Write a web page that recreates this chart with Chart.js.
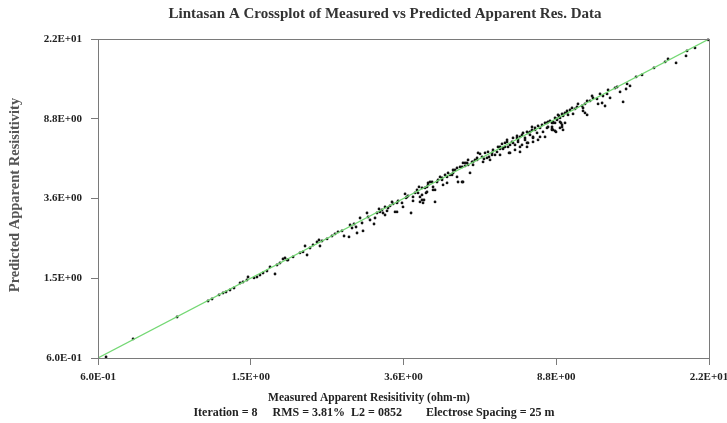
<!DOCTYPE html>
<html>
<head>
<meta charset="utf-8">
<title>Lintasan A Crossplot</title>
<script src="https://cdn.jsdelivr.net/npm/chart.js@4/dist/chart.umd.min.js"></script>
<style>
    html, body { margin: 0; padding: 0; background: #fff; }
    #wrap { width: 727px; height: 423px; position: relative; }
</style>
</head>
<body>
<div id="wrap"><canvas id="crossplot"></canvas></div>
<script>
// measured vs predicted apparent resistivity (ohm-m)
const measured = [
    0.629, 0.737, 0.954, 1.144, 1.171, 1.220, 1.249, 1.271, 1.301, 1.332,
    1.380, 1.404, 1.437, 1.446, 1.498, 1.524, 1.551, 1.579, 1.616, 1.645,
    1.694, 1.714, 1.744, 1.796, 1.828, 1.883, 1.775, 1.818, 1.961, 1.996,
    2.020, 2.044, 2.080, 2.117, 2.167, 2.192, 2.231, 2.205, 2.298, 2.366,
    2.408, 2.451, 2.509, 2.539, 2.614, 2.630, 2.661, 2.692, 2.724, 2.740,
    2.789, 2.822, 2.838, 2.905, 2.923, 2.957, 3.027, 3.045, 3.081, 3.117,
    3.135, 3.191, 3.229, 3.286, 3.325, 3.384, 3.424, 3.464, 3.485, 3.567,
    3.631, 3.652, 3.695, 3.761, 3.805, 3.805, 3.850, 3.895, 3.941, 4.011,
    4.035, 4.058, 4.106, 4.130, 4.155, 4.011, 4.155, 4.254, 4.279, 4.329,
    4.329, 4.406, 4.511, 4.537, 4.645, 4.672, 4.727, 4.811, 4.868, 4.925,
    4.954, 5.072, 5.101, 5.162, 5.223, 5.254, 5.315, 5.101, 5.378, 5.473,
    5.538, 5.636, 5.703, 5.737, 5.804, 5.872, 5.906, 5.976, 6.047, 6.082,
    6.154, 6.226, 6.337, 6.412, 6.449, 6.525, 6.603, 6.641, 6.720, 6.799,
    6.839, 6.919, 7.001, 7.043, 7.125, 7.209, 7.252, 7.337, 7.424, 7.468,
    7.556, 7.645, 7.690, 7.781, 7.873, 7.919, 8.012, 8.107, 8.154, 8.251,
    8.348, 8.397, 8.596, 8.647, 8.749, 9.009, 9.116, 9.169, 6.337, 7.125,
    4.130, 21.46, 19.88, 18.97, 18.86, 17.79, 16.97, 16.68, 15.63, 14.57,
    14.07, 13.58, 13.35, 13.27, 12.81, 13.04, 12.59, 12.44, 12.08, 11.94,
    11.87, 11.59, 11.39, 11.73, 11.53, 11.26, 11.19, 10.93, 10.74, 10.87,
    10.56, 10.43, 10.31, 10.25, 10.31, 10.43, 10.56, 10.01, 9.953, 9.837,
    9.723, 9.666, 9.553, 9.387, 9.277, 9.169, 9.116, 9.009, 8.904, 8.852,
    8.749, 8.647, 8.596, 9.116, 9.009, 8.749, 8.596, 9.277, 5.410, 5.571,
    5.769, 5.941, 6.047, 6.263, 6.337, 6.525, 6.603, 6.680, 6.720, 6.839,
    6.919, 7.001, 7.043, 7.125, 7.209, 7.337, 7.424, 7.468, 7.556, 7.645,
    7.690, 7.781, 7.919, 8.012, 8.251, 8.348, 8.397, 8.496, 8.596, 8.647,
    8.800, 8.852, 8.956, 9.062, 9.169, 9.387, 9.442, 7.690, 7.424, 6.449,
    3.172, 3.229, 3.267, 3.364, 3.588, 3.673, 3.918, 3.964, 4.011, 4.082,
    4.204, 4.279, 4.380, 4.458, 4.511, 4.591, 4.645, 4.783, 4.811, 4.925,
    5.013, 5.072, 5.162, 5.254, 5.410, 5.538, 3.464, 3.964
];
const predicted = [
    0.607, 0.743, 0.951, 1.138, 1.164, 1.218, 1.245, 1.259, 1.288, 1.317,
    1.393, 1.409, 1.441, 1.490, 1.474, 1.490, 1.524, 1.559, 1.594, 1.668,
    1.541, 1.705, 1.744, 1.845, 1.804, 1.866, 1.824, 1.804, 1.952, 1.974,
    2.111, 1.908, 2.064, 2.135, 2.208, 2.258, 2.233, 2.111, 2.284, 2.362,
    2.416, 2.471, 2.499, 2.362, 2.336, 2.673, 2.584, 2.703, 2.613, 2.443,
    2.891, 2.733, 2.499, 3.058, 2.924, 2.827, 2.703, 2.891, 3.058, 3.199,
    3.093, 3.058, 2.990, 3.235, 3.309, 3.384, 3.093, 3.422, 3.500, 3.422,
    3.786, 3.620, 3.702, 3.058, 3.500, 3.661, 3.829, 3.960, 4.096, 3.744,
    3.422, 3.539, 3.829, 4.096, 4.189, 4.050, 4.284, 4.332, 4.096, 3.960,
    3.461, 4.431, 4.532, 4.189, 4.583, 4.793, 4.687, 4.793, 4.957, 4.583,
    4.332, 5.128, 5.363, 5.186, 5.363, 5.244, 4.793, 4.332, 5.424, 5.547,
    5.673, 5.934, 5.737, 5.424, 6.001, 5.673, 6.069, 5.547, 6.001, 6.206,
    5.868, 6.069, 6.419, 6.639, 6.348, 6.714, 6.944, 6.419, 6.001, 6.790,
    7.102, 6.565, 7.263, 6.944, 7.182, 6.565, 7.512, 7.102, 7.597, 6.714,
    7.345, 7.770, 7.102, 7.946, 7.512, 8.126, 7.182, 8.218, 7.597, 8.405,
    7.946, 8.500, 8.036, 7.770, 8.405, 8.500, 8.036, 7.770, 5.868, 6.069,
    3.872, 21.35, 19.52, 18.87, 17.84, 16.49, 17.25, 16.68, 15.59, 14.41,
    14.09, 12.74, 13.03, 12.31, 11.91, 10.64, 12.59, 12.45, 11.13, 12.18,
    11.64, 11.38, 11.64, 10.17, 10.52, 10.41, 11.01, 11.13, 10.76, 11.38,
    10.76, 10.41, 9.947, 10.17, 9.617, 9.403, 9.195, 10.41, 10.06, 9.836,
    9.299, 9.947, 9.726, 9.617, 9.403, 9.092, 9.299, 8.890, 9.195, 8.791,
    8.890, 8.500, 8.405, 8.218, 7.946, 7.683, 7.858, 8.405, 5.424, 6.001,
    5.610, 5.737, 5.868, 6.419, 6.277, 6.419, 6.790, 6.001, 6.565, 6.714,
    6.206, 7.102, 6.790, 6.419, 7.345, 6.944, 6.714, 7.512, 7.597, 8.036,
    7.182, 7.770, 6.944, 7.946, 7.182, 8.405, 8.036, 8.596, 7.770, 8.405,
    7.597, 8.693, 9.092, 8.405, 9.195, 9.403, 9.195, 6.790, 6.419, 6.277,
    3.163, 3.272, 3.128, 3.461, 3.272, 3.661, 3.829, 3.661, 3.539, 4.050,
    4.332, 3.960, 4.332, 4.583, 4.431, 4.687, 4.284, 4.687, 4.957, 5.070,
    5.128, 4.332, 5.363, 5.547, 5.244, 5.547, 3.093, 3.461
];

// 1:1 reference line
const fitLine = [0.6, 21.58];

const tickValues = [0.6, 1.469, 3.599, 8.813, 21.58];
const tickLabels = ['6.0E-01', '1.5E+00', '3.6E+00', '8.8E+00', '2.2E+01'];

const titleText = 'Lintasan A Crossplot of Measured vs Predicted Apparent Res. Data';
const xTitle = 'Measured Apparent Resisitivity (ohm-m)';
const footerText = 'Iteration = 8     RMS = 3.81%  L2 = 0852        Electrose Spacing = 25 m';
const yTitle = 'Predicted Apparent Resisitivity';

const serif = '"Liberation Serif", "Times New Roman", serif';

const textPlugin = {
    id: 'plotTexts',
    afterDraw(chart) {
        const ctx = chart.ctx;
        const area = chart.chartArea;
        ctx.save();
        // frame around the plot
        ctx.strokeStyle = '#7a7a7a';
        ctx.lineWidth = 1;
        ctx.strokeRect(area.left + 0.5, area.top + 0.5, area.right - area.left, area.bottom - area.top);

        ctx.textAlign = 'center';
        ctx.textBaseline = 'middle';
        ctx.fillStyle = '#333';
        ctx.font = 'bold 15px ' + serif;
        ctx.fillText(titleText, 385, 14);

        ctx.fillStyle = '#222';
        ctx.font = 'bold 11.5px ' + serif;
        ctx.fillText(xTitle, 369, 398);
        ctx.font = 'bold 12px ' + serif;
        ctx.fillText(footerText, 374, 413);

        ctx.translate(15, 195);
        ctx.rotate(-Math.PI / 2);
        ctx.fillStyle = '#555';
        ctx.font = 'bold 14.5px ' + serif;
        ctx.fillText(yTitle, 0, 0);
        ctx.restore();
    }
};

function setTicks(scale) {
    scale.ticks = tickValues.map(v => ({ value: v }));
}

const axisCommon = {
    type: 'logarithmic',
    min: tickValues[0],
    max: tickValues[tickValues.length - 1],
    afterBuildTicks: setTicks,
    border: { display: false },
    grid: {
        drawOnChartArea: false,
        drawTicks: true,
        tickLength: 7,
        color: '#7a7a7a'
    },
    ticks: {
        autoSkip: false,
        maxRotation: 0,
        color: '#222',
        font: { family: serif, size: 11, weight: 'bold' },
        callback: (value, index) => tickLabels[index]
    }
};

new Chart(document.getElementById('crossplot'), {
    type: 'scatter',
    data: {
        datasets: [
            {
                type: 'line',
                data: fitLine.map(v => ({ x: v, y: v })),
                borderColor: '#74d874',
                borderWidth: 1.2,
                pointRadius: 0,
                fill: false,
                order: 0
            },
            {
                data: measured.map((m, i) => ({ x: m, y: predicted[i] })),
                backgroundColor: '#111',
                borderWidth: 0,
                pointRadius: 1.4,
                clip: false,
                order: 1
            }
        ]
    },
    options: {
        responsive: true,
        maintainAspectRatio: false,
        animation: false,
        layout: { padding: { top: 39, right: 18, left: 0, bottom: 0 } },
        plugins: {
            legend: { display: false },
            tooltip: { enabled: false }
        },
        scales: {
            x: Object.assign({}, axisCommon, {
                position: 'bottom',
                ticks: Object.assign({}, axisCommon.ticks, { padding: 6 }),
                afterFit(scale) {
                    scale.height = 65;
                    scale.paddingLeft = 0;
                    scale.paddingRight = 0;
                }
            }),
            y: Object.assign({}, axisCommon, {
                position: 'left',
                ticks: Object.assign({}, axisCommon.ticks, { padding: 9 }),
                afterFit(scale) {
                    scale.width = 98;
                    scale.paddingTop = 0;
                    scale.paddingBottom = 0;
                }
            })
        }
    },
    plugins: [textPlugin]
});
</script>
</body>
</html>
